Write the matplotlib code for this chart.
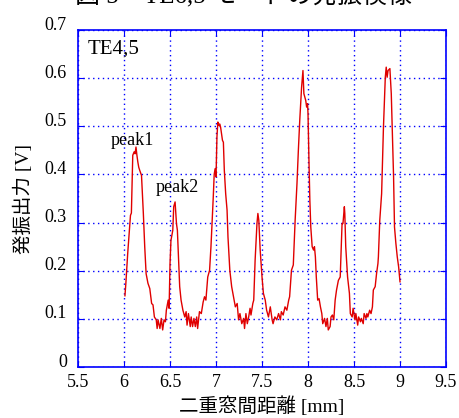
"""Recreate the TE4,5 oscillation output chart."""

import matplotlib
matplotlib.use("Agg")
import matplotlib.pyplot as plt
import matplotlib.transforms as mtransforms

# gap distance [mm] and output [V]
gap_mm = [
    6.01, 6.02, 6.04, 6.07, 6.08, 6.09, 6.095, 6.11, 6.12, 6.13, 6.14, 6.15, 6.16, 6.17, 6.19,
    6.21, 6.225, 6.24, 6.26, 6.28, 6.30, 6.315, 6.33, 6.35, 6.36, 6.37, 6.39, 6.405, 6.42,
    6.435, 6.45, 6.46, 6.48, 6.49, 6.50, 6.51, 6.53, 6.54, 6.555, 6.57, 6.58, 6.595, 6.605,
    6.62, 6.64, 6.66, 6.675, 6.685, 6.70, 6.72, 6.73, 6.745, 6.76, 6.775, 6.79, 6.80, 6.82,
    6.84, 6.86, 6.875, 6.89, 6.91, 6.93, 6.945, 6.96, 6.97, 6.98, 6.99, 7.0, 7.01, 7.02,
    7.03, 7.04, 7.05, 7.07, 7.08, 7.09, 7.105, 7.12, 7.13, 7.15, 7.17, 7.19, 7.21, 7.23,
    7.245, 7.26, 7.28, 7.30, 7.31, 7.325, 7.34, 7.355, 7.37, 7.38, 7.40, 7.41, 7.425, 7.445,
    7.455, 7.465, 7.48, 7.50, 7.515, 7.535, 7.55, 7.57, 7.59, 7.61, 7.62, 7.64, 7.66, 7.68,
    7.70, 7.71, 7.73, 7.75, 7.77, 7.79, 7.80, 7.82, 7.84, 7.86, 7.88, 7.895, 7.91, 7.93,
    7.945, 7.955, 7.975, 7.985, 7.995, 8.0, 8.01, 8.02, 8.03, 8.045, 8.06, 8.07, 8.08, 8.09,
    8.105, 8.12, 8.135, 8.15, 8.16, 8.18, 8.195, 8.21, 8.22, 8.24, 8.25, 8.265, 8.28, 8.295,
    8.31, 8.33, 8.35, 8.37, 8.38, 8.395, 8.40, 8.41, 8.43, 8.45, 8.46, 8.48, 8.49, 8.51,
    8.52, 8.54, 8.55, 8.57, 8.58, 8.60, 8.61, 8.63, 8.64, 8.65, 8.67, 8.685, 8.70, 8.71,
    8.73, 8.745, 8.76, 8.765, 8.78, 8.80, 8.82, 8.84, 8.85, 8.86, 8.87, 8.89, 8.905, 8.915,
    8.93, 8.94, 8.955, 8.97, 8.985, 9.0,
]
output_v = [
    0.148, 0.174, 0.236, 0.315, 0.32, 0.395, 0.44, 0.447, 0.443, 0.457, 0.44, 0.426, 0.415, 0.409, 0.398,
    0.319, 0.25, 0.194, 0.174, 0.163, 0.132, 0.129, 0.104, 0.098, 0.080, 0.098, 0.080, 0.101, 0.077,
    0.098, 0.094, 0.118, 0.139, 0.122, 0.215, 0.263, 0.284, 0.333, 0.343, 0.298, 0.284, 0.215, 0.167,
    0.139, 0.118, 0.104, 0.115, 0.087, 0.111, 0.084, 0.104, 0.084, 0.101, 0.084, 0.104, 0.080, 0.115,
    0.111, 0.135, 0.146, 0.139, 0.187, 0.201, 0.25, 0.312, 0.353, 0.40, 0.412, 0.395, 0.478, 0.509,
    0.502, 0.505, 0.498, 0.471, 0.467, 0.409, 0.36, 0.326, 0.27, 0.201, 0.167, 0.146, 0.125, 0.132,
    0.098, 0.111, 0.09, 0.101, 0.080, 0.111, 0.090, 0.104, 0.122, 0.108, 0.132, 0.139, 0.222, 0.298,
    0.319, 0.305, 0.243, 0.187, 0.153, 0.139, 0.118, 0.104, 0.125, 0.098, 0.090, 0.104, 0.098, 0.111,
    0.098, 0.115, 0.108, 0.125, 0.118, 0.139, 0.146, 0.201, 0.212, 0.305, 0.381, 0.45, 0.512, 0.581,
    0.616, 0.568, 0.554, 0.54, 0.547, 0.526, 0.43, 0.346, 0.291, 0.25, 0.243, 0.25, 0.229, 0.187,
    0.139, 0.142, 0.125, 0.111, 0.09, 0.101, 0.084, 0.101, 0.077, 0.084, 0.104, 0.108, 0.098, 0.139,
    0.16, 0.18, 0.187, 0.298, 0.298, 0.333, 0.319, 0.25, 0.187, 0.153, 0.111, 0.104, 0.122, 0.098,
    0.111, 0.087, 0.104, 0.094, 0.101, 0.09, 0.111, 0.101, 0.111, 0.104, 0.118, 0.111, 0.125, 0.16,
    0.167, 0.194, 0.215, 0.229, 0.305, 0.36, 0.498, 0.602, 0.623, 0.602, 0.616, 0.62, 0.568, 0.498,
    0.395, 0.291, 0.257, 0.229, 0.208, 0.177,
]

x_ticks = [5.5, 6, 6.5, 7, 7.5, 8, 8.5, 9, 9.5]
x_tick_labels = ["5.5", "6", "6.5", "7", "7.5", "8", "8.5", "9", "9.5"]
y_ticks = [0, 0.1, 0.2, 0.3, 0.4, 0.5, 0.6, 0.7]
y_tick_labels = ["0", "0.1", "0.2", "0.3", "0.4", "0.5", "0.6", "0.7"]

MIXED = ["Liberation Serif", "Noto Sans CJK JP"]
BLUE = "#0000ff"

fig = plt.figure(figsize=(4.59, 4.18), dpi=100)
ax = fig.add_axes([0.17, 0.122, 0.8017, 0.806])

ax.plot(gap_mm, output_v, color="#e00000", linewidth=1.0)

ax.set_xlim(5.5, 9.5)
ax.set_ylim(0, 0.7)
ax.set_xticks(x_ticks)
ax.set_xticklabels(x_tick_labels, family="Liberation Serif", fontsize=13)
ax.set_yticks(y_ticks)
ax.set_yticklabels(y_tick_labels, family="Liberation Serif", fontsize=13)
ax.tick_params(direction="in", length=4, color=BLUE, right=True, top=True)
ax.tick_params(axis="x", pad=5)
ax.tick_params(axis="y", pad=8)
ax.grid(True, color=BLUE, linestyle=(0, (1, 2.5)), linewidth=1.0)
for sp in ax.spines.values():
    sp.set_color(BLUE)
    sp.set_linewidth(1.2)

# the y tick labels sit a little above their grid lines in the original
shift = mtransforms.ScaledTranslation(0, 7 / 100, fig.dpi_scale_trans)
for lab in ax.get_yticklabels():
    lab.set_transform(lab.get_transform() + shift)

ax.set_xlabel("二重窓間距離 [mm]", family=MIXED, fontsize=14, labelpad=4)
ax.set_ylabel("発振出力 [V]", family=MIXED, fontsize=14, labelpad=8)

ax.text(5.6, 0.66, "TE4,5", family="Liberation Serif", fontsize=15, va="center")
ax.text(5.86, 0.47, "peak1", family="Liberation Serif", fontsize=13, va="center")
ax.text(6.34, 0.372, "peak2", family="Liberation Serif", fontsize=13, va="center")

# caption above, mostly cut off by the image edge
fig.text(0.53, 1.012, "図 5　TE6,5 モードの発振模様", family=MIXED, fontsize=18,
         ha="center", va="center")

fig.savefig("out.png", dpi=100)
